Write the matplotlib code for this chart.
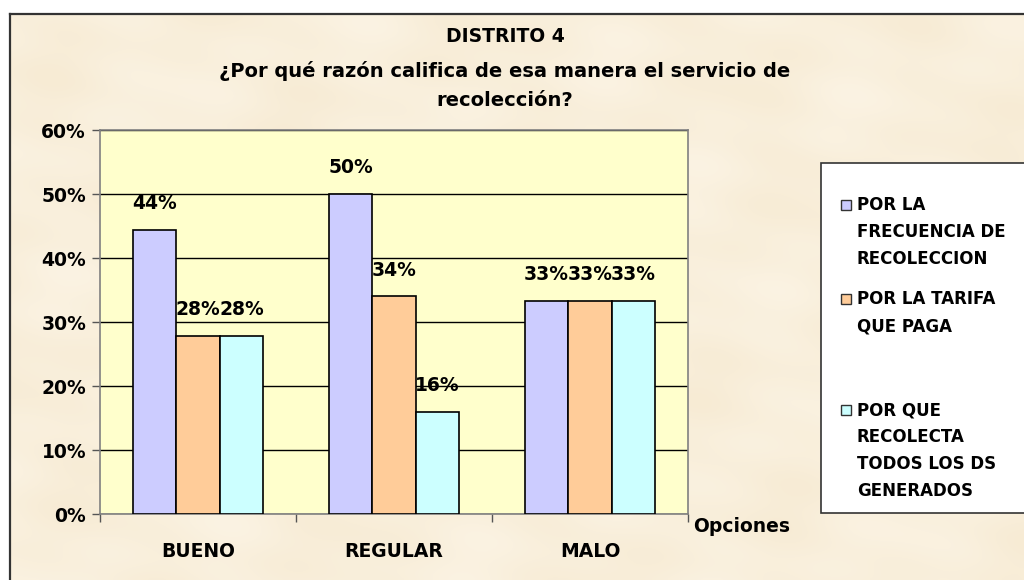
import matplotlib
matplotlib.use("Agg")
import matplotlib.pyplot as plt
import numpy as np
from matplotlib.patches import Rectangle

categories = ["BUENO", "REGULAR", "MALO"]
series_names = ["POR LA\nFRECUENCIA DE\nRECOLECCION",
                "POR LA TARIFA\nQUE PAGA",
                "POR QUE\nRECOLECTA\nTODOS LOS DS\nGENERADOS"]
frecuencia = [0.444, 0.50, 0.333]
tarifa = [0.278, 0.34, 0.333]
recolecta = [0.278, 0.16, 0.333]
yticks = [0.0, 0.1, 0.2, 0.3, 0.4, 0.5, 0.6]

COLORS = ["#CCCCFF", "#FFCC99", "#CCFFFF"]
FONT = "DejaVu Sans"

W, H = 1024, 580
fig = plt.figure(figsize=(W / 100, H / 100), dpi=100, facecolor="white")


def fx(px):
    return px / W


def fy(py):
    return 1 - py / H


# parchment fill of the chart area: faint mottling from a few sine waves
bg = fig.add_axes([fx(10), 0, 1 - fx(10), fy(14)], zorder=-5)
gx, gy = np.meshgrid(np.linspace(0, 1, 400), np.linspace(0, 1, 240))
mott = (np.sin(gx * 23 + gy * 7) * np.sin(gy * 17 - gx * 5)
        + 0.6 * np.sin(gx * 41 - gy * 29) * np.sin(gy * 37 + gx * 11))
mott = (mott - mott.min()) / (mott.max() - mott.min())
light = np.array([251, 243, 227]) / 255
dark = np.array([247, 235, 212]) / 255
bg.imshow(light + (dark - light) * mott[..., None], aspect="auto",
          interpolation="bilinear", extent=(0, 1, 0, 1))
bg.set_xticks([]); bg.set_yticks([])
for s in ("right", "bottom"):
    bg.spines[s].set_visible(False)
for s in ("left", "top"):
    bg.spines[s].set_color("#333333")
    bg.spines[s].set_linewidth(1.6)

ax = fig.add_axes([fx(100), fy(514), fx(688) - fx(100), fy(130) - fy(514)])
ax.set_facecolor("#FFFFCC")

x = np.arange(len(categories))
bw = 0.222
for i, (vals, col) in enumerate(zip([frecuencia, tarifa, recolecta], COLORS)):
    pos = x + (i - 1) * bw
    ax.bar(pos, vals, width=bw, color=col, edgecolor="black", lw=1.2, zorder=3)
    for xp, v in zip(pos, vals):
        ax.annotate(f"{round(v * 100):.0f}%", (xp, v), xytext=(0, 19),
                    textcoords="offset points", ha="center", va="center",
                    fontsize=13.5, fontweight="bold", family=FONT, zorder=4)

ax.set_xlim(-0.5, 2.5)
ax.set_ylim(0, 0.6)
ax.set_yticks(yticks)
ax.set_yticklabels([f"{t * 100:.0f}%" for t in yticks], fontsize=13.5,
                   fontweight="bold", family=FONT)
ax.yaxis.grid(True, color="black", lw=1.0, zorder=1)
ax.set_axisbelow(True)
ax.tick_params(axis="y", direction="out", length=6, width=1, color="#555555", pad=4)

ax.set_xticks(x)
ax.set_xticklabels(categories, fontsize=13.5, fontweight="bold", family=FONT)
ax.set_xticks([-0.5, 0.5, 1.5, 2.5], minor=True)
ax.tick_params(axis="x", which="major", length=0, pad=20)
ax.tick_params(axis="x", which="minor", direction="out", length=6, width=1, color="#555555")

for s in ax.spines.values():
    s.set_color("#808080")
    s.set_linewidth(1.2)

fig.text(fx(693), fy(526), "Opciones", ha="left", va="center", fontsize=13.5,
         fontweight="bold", family=FONT)

# title
fig.text(fx(505), fy(36), "DISTRITO 4", ha="center", va="center", fontsize=13.5,
         fontweight="bold", family=FONT)
fig.text(fx(505), fy(71), "¿Por qué razón califica de esa manera el servicio de",
         ha="center", va="center", fontsize=14, fontweight="bold", family=FONT)
fig.text(fx(505), fy(101), "recolección?", ha="center", va="center", fontsize=14,
         fontweight="bold", family=FONT)

# legend box
fig.patches.append(Rectangle((fx(821), fy(513)), fx(220), fy(163) - fy(513),
                             transform=fig.transFigure, facecolor="white",
                             edgecolor="#333333", lw=1.2, zorder=2))
first_line = [205, 299, 410]
for name, col, y0 in zip(series_names, COLORS, first_line):
    fig.patches.append(Rectangle((fx(841), fy(y0 + 5)), fx(10), fy(y0 - 5) - fy(y0 + 5),
                                 transform=fig.transFigure, facecolor=col,
                                 edgecolor="#333333", lw=1.0, zorder=3))
    for k, line in enumerate(name.split("\n")):
        fig.text(fx(857), fy(y0 + 27 * k), line, ha="left", va="center",
                 fontsize=12, fontweight="bold", family=FONT, zorder=4)

fig.savefig("out.png", dpi=100, facecolor="white")
